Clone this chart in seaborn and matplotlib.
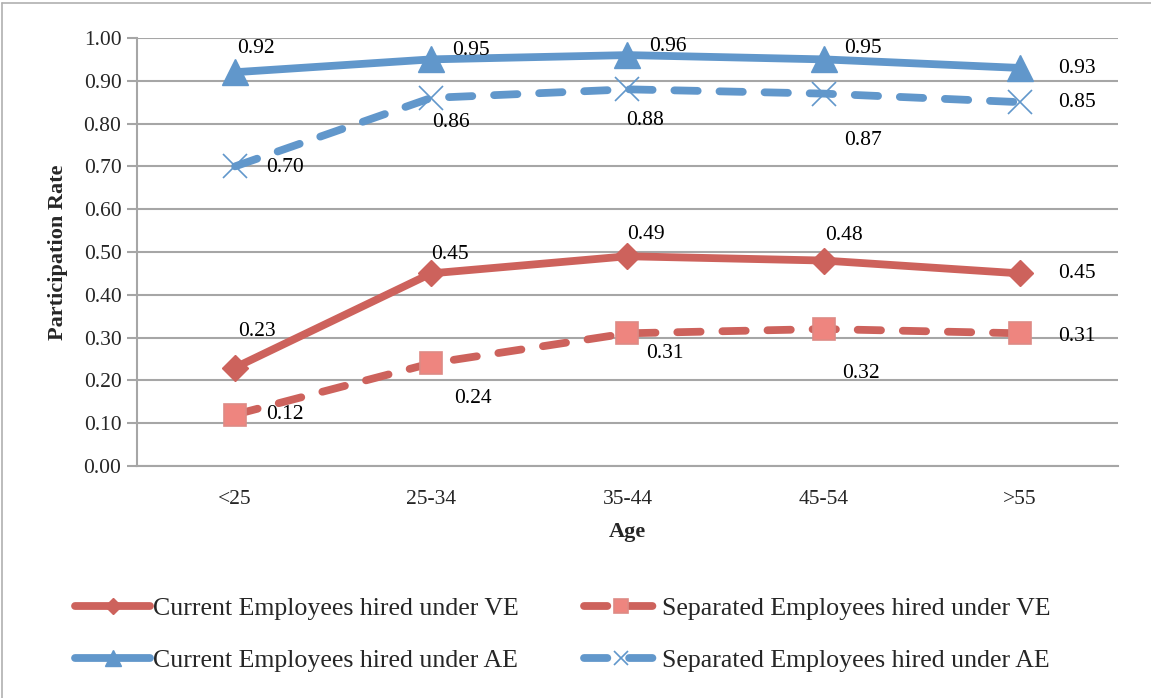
import matplotlib
matplotlib.use("Agg")
import matplotlib.pyplot as plt
import matplotlib.lines as mlines
import seaborn as sns
import pandas as pd

# Participation rates by age group
ages = ["<25", "25-34", "35-44", "45-54", ">55"]
current_ve = [0.23, 0.45, 0.49, 0.48, 0.45]
separated_ve = [0.12, 0.24, 0.31, 0.32, 0.31]
current_ae = [0.92, 0.95, 0.96, 0.95, 0.93]
separated_ae = [0.70, 0.86, 0.88, 0.87, 0.85]

series_names = [
    "Current Employees hired under VE",
    "Separated Employees hired under VE",
    "Current Employees hired under AE",
    "Separated Employees hired under AE",
]

sns.set_style("white")
plt.rcParams["font.family"] = ["Liberation Serif", "DejaVu Serif"]

RED = "#CD625C"
BLUE = "#6197CB"
GRID = "#A6A6A6"
LW = 5.6
DASH = [3.0, 2.8]
TXT = 15.5

fig = plt.figure(figsize=(11.51, 6.98), dpi=100)
ax = fig.add_axes([0.119, 0.3324, 0.8523, 0.6132])

styles = {
    series_names[0]: dict(color=RED, marker="D", ms=13, ls="-", mfc=RED, mec=RED, mew=1),
    series_names[1]: dict(color=RED, marker="s", ms=16, ls="--", mfc="#EE857F", mec="#DE8A85", mew=1.2),
    series_names[2]: dict(color=BLUE, marker="^", ms=19, ls="-", mfc=BLUE, mec=BLUE, mew=1),
    series_names[3]: dict(color=BLUE, marker="x", ms=17, ls="--", mfc=BLUE, mec=BLUE, mew=1.2),
}

values = [current_ve, separated_ve, current_ae, separated_ae]

# Label offsets (pixels) for each point's value text
offsets = [
    [(22, 36), (19, 19), (18, 22), (20, 25), (57, 0)],
    [(50, 0), (42, -35), (37, -20), (37, -44), (57, -3)],
    [(21, 24), (40, 9), (40, 9), (39, 11), (57, -1)],
    [(50, -1), (20, -25), (18, -31), (39, -47), (57, 0)],
]

for name, vals, offs in zip(series_names, values, offsets):
    st = styles[name]
    df = pd.DataFrame({"Age": ages, "Rate": vals})
    sns.lineplot(data=df, x="Age", y="Rate", ax=ax, color=st["color"], lw=LW,
                 sort=False, zorder=3)
    line = ax.lines[-1]
    line.set_linestyle(st["ls"])
    if st["ls"] == "--":
        line.set_dashes(DASH)
        line.set_dash_capstyle("round")
    else:
        line.set_solid_capstyle("round")
    line.set_solid_joinstyle("round")
    if st["marker"] == "x":
        ax.plot(range(len(ages)), vals, ls="none", marker="x", ms=st["ms"],
                mec=st["mec"], mew=st["mew"], zorder=4)
    else:
        ax.plot(range(len(ages)), vals, ls="none", marker=st["marker"], ms=st["ms"],
                mfc=st["mfc"], mec=st["mec"], mew=st["mew"], zorder=4)
    for i, (v, (dx, dy)) in enumerate(zip(vals, offs)):
        ax.annotate(f"{v:.2f}", (i, v), xytext=(dx, dy), textcoords="offset pixels",
                    ha="center", va="center", fontsize=TXT, color="black", zorder=5)

ax.set_xlim(-0.5, len(ages) - 0.5)
ax.set_ylim(0, 1.0)
ax.set_yticks([i / 10 for i in range(11)])
ax.set_yticklabels([f"{i / 10:.2f}" for i in range(11)], fontsize=TXT)
ax.set_xticks(range(len(ages)))
ax.set_xticklabels(ages, fontsize=TXT)
ax.set_xticks([i - 0.5 for i in range(len(ages) + 1)], minor=True)
ax.tick_params(axis="x", which="major", length=0, pad=17)
ax.tick_params(axis="x", which="minor", length=7, width=1.5, color=GRID, direction="out")
ax.tick_params(axis="y", length=7.2, width=1.5, color=GRID, direction="out", pad=4, left=True)

ax.grid(axis="y", color=GRID, lw=1.5)
ax.set_axisbelow(True)
for side in ["top", "right"]:
    ax.spines[side].set_visible(False)
for side in ["left", "bottom"]:
    ax.spines[side].set_color(GRID)
    ax.spines[side].set_linewidth(1.5)

ax.set_xlabel("Age", fontsize=16, fontweight="bold", labelpad=10)
ax.set_ylabel("Participation Rate", fontsize=16, fontweight="bold", labelpad=11)

order = [series_names[0], series_names[2], series_names[1], series_names[3]]
handles = []
for name in order:
    st = styles[name]
    h = mlines.Line2D([], [], color=st["color"], lw=LW, ls=st["ls"],
                      marker=st["marker"], ms=st["ms"] * 0.62,
                      mfc=st["mfc"], mec=st["mec"], mew=st["mew"],
                      solid_capstyle="round", dash_capstyle="round")
    if st["ls"] == "--":
        h.set_dashes(DASH)
    handles.append(h)
fig.legend(handles, order, loc="center", bbox_to_anchor=(0.489, 0.091), ncol=2,
           frameon=False, fontsize=18.6, handlelength=2.9, handletextpad=0.12,
           columnspacing=2.5, labelspacing=1.1, numpoints=1, borderpad=0)

# thin frame lines at the figure's top and left edges
fig.add_artist(mlines.Line2D([0.002, 0.002], [0, 0.996], transform=fig.transFigure,
                             color="#B0B0B0", lw=1.2))
fig.add_artist(mlines.Line2D([0.002, 1.0], [0.996, 0.996], transform=fig.transFigure,
                             color="#B0B0B0", lw=1.2))

fig.savefig("out.png", dpi=100)
